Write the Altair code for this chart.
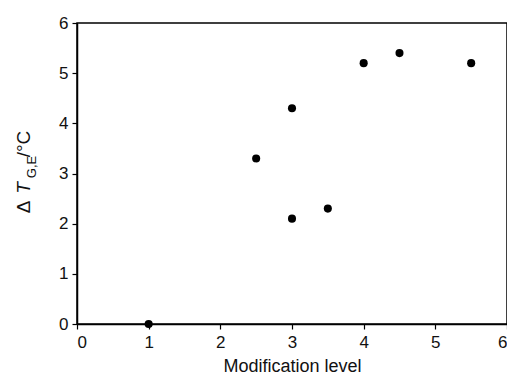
import altair as alt
import pandas as pd

# Data
modification_level = [1, 2.5, 3, 3, 3.5, 4, 4.5, 5.5]
delta_T = [0, 3.3, 4.3, 2.1, 2.3, 5.2, 5.4, 5.2]
tick_values = [0, 1, 2, 3, 4, 5, 6]

df = pd.DataFrame({"level": modification_level, "dT": delta_T})

FONT = "Liberation Sans"
INK = "#111111"

points = alt.Chart(df).mark_circle(size=65, color="black", opacity=1).encode(
    x=alt.X("level:Q",
            scale=alt.Scale(domain=[0, 6], nice=False, zero=False),
            axis=alt.Axis(values=tick_values, title="Modification level",
                          titleFontSize=18, titlePadding=7, labelPadding=5)),
    y=alt.Y("dT:Q",
            scale=alt.Scale(domain=[0, 6], nice=False),
            axis=alt.Axis(values=tick_values, title=None, labelPadding=4)),
)

one = pd.DataFrame({"a": [0]})

def piece(txt, x, y, size, style="normal"):
    return alt.Chart(one).mark_text(
        angle=270, align="center", baseline="middle", font=FONT,
        fontSize=size, fontStyle=style, color=INK
    ).encode(x=alt.value(x), y=alt.value(y), text=alt.value(txt))

title_parts = [
    piece("Δ", -53, 184, 19),
    piece("T", -53, 165, 19, "italic"),
    piece("G,E", -45, 144, 13),
    piece("/°C", -53, 121, 19),
]

chart = alt.layer(points, *title_parts).properties(
    width=430, height=301,
    autosize=alt.AutoSizeParams(type="none"),
    padding={"left": 69, "top": 15, "right": 0, "bottom": 50},
).configure_view(
    stroke="black", strokeWidth=1.5
).configure_axis(
    grid=False, domainColor="black", domainWidth=1.5,
    tickColor="black", tickWidth=1.2, tickSize=5,
    labelFont=FONT, titleFont=FONT, labelFontSize=17,
    labelColor=INK, titleColor=INK, titleFontWeight="normal",
)

chart.save("out.html", embed_options={"renderer": "svg", "actions": False})
